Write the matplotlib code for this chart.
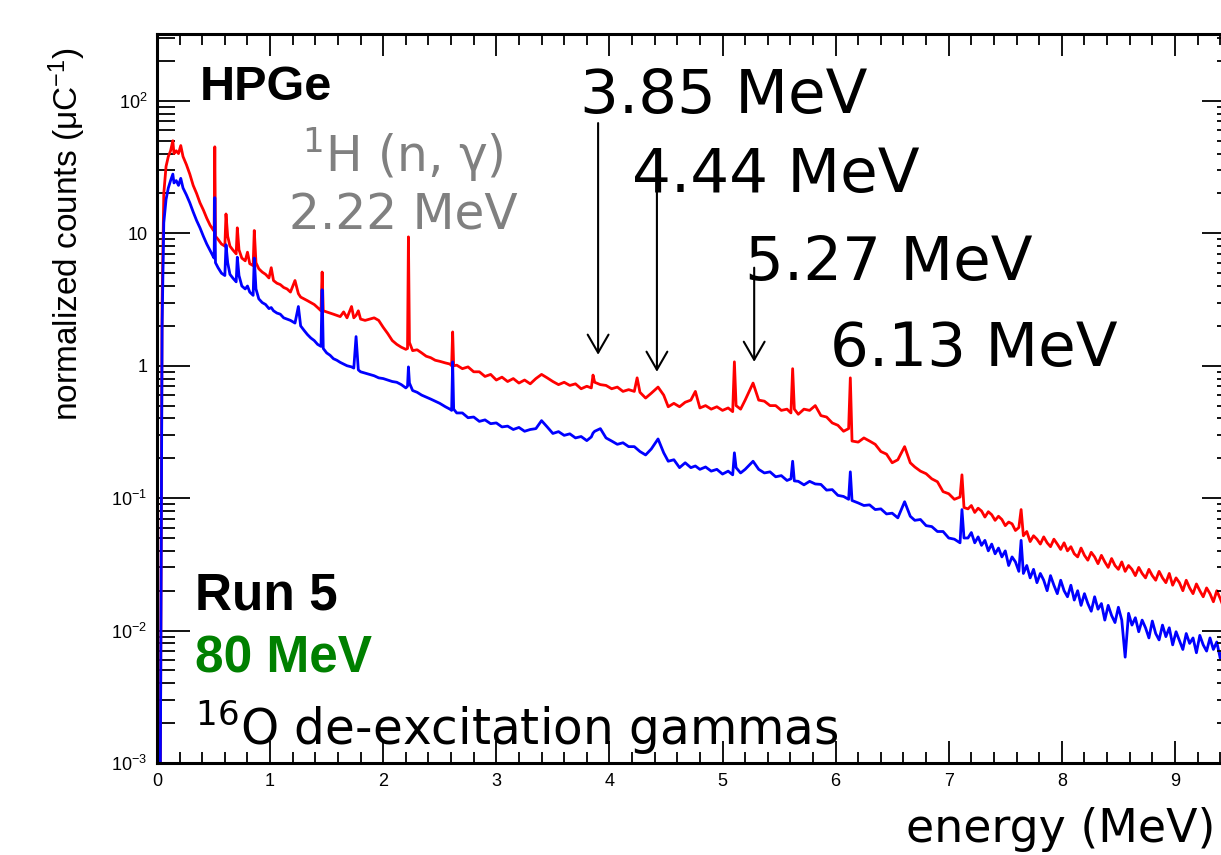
import matplotlib
matplotlib.use("Agg")
import matplotlib.pyplot as plt
from matplotlib.ticker import FixedLocator, FixedFormatter, MultipleLocator, LogLocator, NullFormatter

# HPGe spectrum, Run 5, 80 MeV
energy = [
    0.0, 0.03, 0.045, 0.06, 0.08, 0.10, 0.12, 0.14, 0.15, 0.17,
    0.19, 0.21, 0.23, 0.26, 0.29, 0.32, 0.35, 0.38, 0.41, 0.44,
    0.47, 0.50, 0.505, 0.511, 0.517, 0.54, 0.57, 0.60, 0.61, 0.625,
    0.645, 0.67, 0.70, 0.71, 0.725, 0.75, 0.78, 0.80, 0.82, 0.85,
    0.86, 0.875, 0.90, 0.93, 0.96, 0.99, 1.01, 1.03, 1.06, 1.09,
    1.12, 1.15, 1.18, 1.22, 1.25, 1.27, 1.30, 1.33, 1.36, 1.39,
    1.42, 1.45, 1.46, 1.47, 1.50, 1.53, 1.56, 1.59, 1.62, 1.65,
    1.68, 1.72, 1.74, 1.76, 1.78, 1.80, 1.84, 1.88, 1.92, 1.96,
    2.00, 2.04, 2.08, 2.12, 2.16, 2.20, 2.215, 2.223, 2.232, 2.26,
    2.30, 2.34, 2.38, 2.42, 2.46, 2.50, 2.55, 2.59, 2.605, 2.614,
    2.623, 2.65, 2.70, 2.75, 2.80, 2.85, 2.90, 2.95, 3.00, 3.05,
    3.10, 3.15, 3.20, 3.25, 3.30, 3.35, 3.40, 3.45, 3.50, 3.55,
    3.60, 3.65, 3.70, 3.75, 3.80, 3.84, 3.855, 3.87, 3.92, 3.97,
    4.02, 4.07, 4.12, 4.17, 4.22, 4.245, 4.27, 4.32, 4.37, 4.43,
    4.48, 4.52, 4.57, 4.62, 4.67, 4.72, 4.76, 4.80, 4.85, 4.90,
    4.95, 5.00, 5.05, 5.09, 5.105, 5.12, 5.16, 5.20, 5.27, 5.32,
    5.37, 5.42, 5.47, 5.52, 5.57, 5.605, 5.62, 5.635, 5.67, 5.72,
    5.77, 5.82, 5.87, 5.92, 5.97, 6.02, 6.07, 6.115, 6.13, 6.145,
    6.20, 6.25, 6.30, 6.35, 6.40, 6.45, 6.50, 6.55, 6.61, 6.66,
    6.70, 6.75, 6.80, 6.85, 6.90, 6.95, 7.00, 7.05, 7.10, 7.117,
    7.135,
    7.17, 7.20, 7.23, 7.26, 7.29, 7.32, 7.35, 7.38, 7.41, 7.44,
    7.47, 7.50, 7.53, 7.56, 7.59, 7.62, 7.64, 7.66, 7.69, 7.72,
    7.75, 7.78, 7.81, 7.84, 7.87, 7.90, 7.93, 7.96, 7.99, 8.02,
    8.05, 8.08, 8.11, 8.14, 8.17, 8.20, 8.23, 8.26, 8.29, 8.32,
    8.35, 8.38, 8.41, 8.44, 8.47, 8.50, 8.53, 8.56, 8.59, 8.62,
    8.65, 8.68, 8.71, 8.74, 8.77, 8.80, 8.83, 8.86, 8.89, 8.92,
    8.95, 8.98, 9.01, 9.04, 9.07, 9.10, 9.13, 9.16, 9.19, 9.22,
    9.25, 9.28, 9.31, 9.34, 9.37, 9.40, 9.43,
]

counts_red = [
    0.001, 0.001, 3.0, 20, 32, 38, 42, 50, 40, 42,
    40, 46, 38, 33, 28, 23, 20, 17, 15, 13,
    11.5, 10.5, 10.5, 45, 9.5, 9.0, 8.3, 8.0, 14, 9.5,
    8.0, 7.5, 7.0, 11, 7.5, 6.5, 6.2, 7.2, 5.9, 5.7,
    10.5, 6.0, 5.4, 5.1, 4.9, 4.6, 5.5, 4.4, 4.2, 4.1,
    3.9, 3.8, 3.6, 4.4, 3.5, 3.3, 3.2, 3.1, 3.0, 2.9,
    2.75, 2.6, 5.1, 2.6, 2.55, 2.5, 2.45, 2.4, 2.35, 2.55,
    2.3, 2.8, 2.3, 2.4, 2.6, 2.25, 2.2, 2.25, 2.3, 2.2,
    1.95, 1.75, 1.55, 1.45, 1.38, 1.33, 1.35, 9.4, 1.5, 1.3,
    1.32, 1.25, 1.18, 1.15, 1.1, 1.08, 1.05, 1.03, 1.0, 1.8,
    1.0, 1.01, 0.95, 0.98, 0.90, 0.90, 0.83, 0.86, 0.78, 0.82,
    0.76, 0.80, 0.74, 0.78, 0.73, 0.80, 0.86, 0.81, 0.76, 0.72,
    0.75, 0.71, 0.73, 0.67, 0.70, 0.68, 0.85, 0.75, 0.72, 0.71,
    0.67, 0.69, 0.64, 0.66, 0.64, 0.81, 0.63, 0.57, 0.62, 0.69,
    0.60, 0.49, 0.52, 0.49, 0.53, 0.55, 0.64, 0.48, 0.50, 0.47,
    0.49, 0.46, 0.48, 0.45, 1.07, 0.50, 0.47, 0.55, 0.74, 0.55,
    0.54, 0.50, 0.50, 0.46, 0.47, 0.44, 0.95, 0.47, 0.43, 0.47,
    0.46, 0.50, 0.42, 0.41, 0.37, 0.355, 0.32, 0.335, 0.81, 0.27,
    0.265, 0.285, 0.27, 0.255, 0.225, 0.215, 0.185, 0.195, 0.245, 0.185,
    0.172, 0.16, 0.153, 0.14, 0.133, 0.112, 0.108, 0.098, 0.102, 0.15,
    0.085,
    0.083, 0.088, 0.078, 0.084, 0.080, 0.072, 0.079, 0.075, 0.068, 0.073,
    0.069, 0.062, 0.066, 0.064, 0.057, 0.060, 0.082, 0.052, 0.056, 0.047,
    0.052, 0.049, 0.045, 0.051, 0.046, 0.043, 0.049, 0.045, 0.041, 0.046,
    0.040, 0.043, 0.038, 0.036, 0.042, 0.037, 0.034, 0.039, 0.036, 0.032,
    0.037, 0.033, 0.030, 0.035, 0.031, 0.029, 0.033, 0.028, 0.031, 0.029,
    0.026, 0.030, 0.027, 0.025, 0.029, 0.026, 0.024, 0.028, 0.025, 0.023,
    0.027, 0.022, 0.025, 0.023, 0.020, 0.024, 0.021, 0.019, 0.0225, 0.020,
    0.018, 0.021, 0.019, 0.0165, 0.020, 0.0175, 0.015,
]

counts_blue = [
    0.001, 0.001, 2.0, 12, 18, 22, 25, 28, 24, 25,
    23, 26, 22, 19.5, 17, 14.5, 12.5, 11, 9.5, 8.3,
    7.4, 6.6, 6.5, 18.6, 6.0, 5.5, 5.0, 4.8, 8.2, 6.0,
    4.9, 4.6, 4.3, 6.6, 4.8, 4.0, 3.8, 4.0, 3.6, 3.4,
    6.5, 3.8, 3.2, 3.0, 2.9, 2.7, 2.75, 2.6, 2.5, 2.45,
    2.3, 2.25, 2.2, 2.1, 2.8, 2.0, 1.85, 1.72, 1.62, 1.55,
    1.45, 1.40, 3.75, 1.35, 1.25, 1.2, 1.13, 1.1, 1.06, 1.03,
    1.0, 0.98, 0.96, 1.66, 0.93, 0.90, 0.88, 0.86, 0.84, 0.81,
    0.80, 0.78, 0.76, 0.75, 0.72, 0.68, 0.70, 0.98, 0.74, 0.65,
    0.63, 0.60, 0.58, 0.56, 0.54, 0.52, 0.49, 0.47, 0.46, 1.07,
    0.47, 0.44, 0.44, 0.405, 0.41, 0.38, 0.39, 0.365, 0.37, 0.345,
    0.35, 0.33, 0.342, 0.32, 0.33, 0.335, 0.385, 0.345, 0.308, 0.318,
    0.298, 0.306, 0.285, 0.292, 0.272, 0.29, 0.31, 0.32, 0.335, 0.285,
    0.27, 0.255, 0.262, 0.245, 0.245, 0.235, 0.225, 0.212, 0.235, 0.28,
    0.22, 0.19, 0.195, 0.17, 0.185, 0.17, 0.175, 0.165, 0.172, 0.16,
    0.165, 0.152, 0.16, 0.15, 0.22, 0.17, 0.155, 0.165, 0.19, 0.165,
    0.155, 0.158, 0.145, 0.148, 0.136, 0.14, 0.19, 0.135, 0.134, 0.126,
    0.134, 0.128, 0.127, 0.115, 0.116, 0.105, 0.103, 0.098, 0.158, 0.096,
    0.092, 0.088, 0.089, 0.082, 0.083, 0.076, 0.077, 0.071, 0.094, 0.073,
    0.068, 0.069, 0.062, 0.061, 0.056, 0.056, 0.05, 0.049, 0.046, 0.082,
    0.050,
    0.050, 0.055, 0.046, 0.051, 0.044, 0.048, 0.040, 0.045, 0.038, 0.042,
    0.036, 0.040, 0.031, 0.036, 0.033, 0.028, 0.048, 0.027, 0.031, 0.025,
    0.029, 0.023, 0.027, 0.024, 0.020, 0.026, 0.022, 0.019, 0.024, 0.020,
    0.018, 0.022, 0.017, 0.020, 0.0155, 0.019, 0.016, 0.014, 0.018, 0.0145,
    0.016, 0.012, 0.0155, 0.013, 0.0115, 0.015, 0.012, 0.0063, 0.0135, 0.011,
    0.0125, 0.0098, 0.012, 0.0105, 0.0088, 0.0118, 0.0095, 0.0085, 0.011, 0.009,
    0.0105, 0.0078, 0.0098, 0.0084, 0.0072, 0.0095, 0.008, 0.0088, 0.0068, 0.0092,
    0.0078, 0.0070, 0.0088, 0.0072, 0.0082, 0.0062, 0.0075,
]

# arrows pointing at the 16O lines
arrow_energy = [3.90, 4.42, 5.28]
arrow_tip = [1.21, 0.90, 1.07]
arrow_tail = [68.0, 25.4, 5.5]

line_labels = ['3.85 MeV', '4.44 MeV', '5.27 MeV', '6.13 MeV']
ytick_vals = [1e-3, 1e-2, 1e-1, 1, 10, 100]
ytick_text = ['10$^{-3}$', '10$^{-2}$', '10$^{-1}$', '1', '10', '10$^{2}$']

plt.rcParams['font.family'] = ['Liberation Sans', 'DejaVu Sans']
plt.rcParams['mathtext.fontset'] = 'custom'
plt.rcParams['mathtext.rm'] = 'DejaVu Sans'
plt.rcParams['mathtext.default'] = 'regular'

W, H = 1221, 855
fig = plt.figure(figsize=(W / 100, H / 100), dpi=100)


def fx(x):
    return x / W


def fy(y):
    return 1 - y / H


ax = fig.add_axes([fx(157), fy(763), fx(1223) - fx(157), fy(34) - fy(763)])
ax.plot(energy, counts_red, color='#ff0000', lw=2.0)
ax.plot(energy, counts_blue, color='#0000ff', lw=2.0)

ax.set_yscale('log')
ymin, ymax = 1e-3, 320
ax.set_xlim(0, 9.425)
ax.set_ylim(ymin, ymax)

ax.xaxis.set_major_locator(FixedLocator(range(10)))
ax.xaxis.set_minor_locator(MultipleLocator(0.2))
ax.yaxis.set_major_locator(FixedLocator(ytick_vals))
ax.yaxis.set_major_formatter(FixedFormatter(ytick_text))
ax.yaxis.set_minor_locator(LogLocator(base=10, subs=range(2, 10)))
ax.yaxis.set_minor_formatter(NullFormatter())

ax.tick_params(axis='x', which='major', direction='in', length=16, width=1.3,
               top=True, labelsize=13, pad=7)
ax.tick_params(axis='x', which='minor', direction='in', length=8, width=1.3, top=True)
ax.tick_params(axis='y', which='major', direction='in', length=24, width=1.3,
               right=False, labelsize=13, pad=7)
ax.tick_params(axis='y', which='minor', direction='in', length=13, width=1.3, right=False)
for s in ax.spines.values():
    s.set_linewidth(2.2)

# right-hand ticks are shorter in the original
ax2 = ax.twinx()
ax2.set_yscale('log')
ax2.set_ylim(ymin, ymax)
ax2.yaxis.set_major_locator(FixedLocator(ytick_vals))
ax2.yaxis.set_minor_locator(LogLocator(base=10, subs=range(2, 10)))
ax2.tick_params(axis='y', which='major', direction='in', length=15, width=1.3, labelright=False)
ax2.tick_params(axis='y', which='minor', direction='in', length=4.5, width=1.3, labelright=False)
for s in ax2.spines.values():
    s.set_visible(False)

for e, tip, tail in zip(arrow_energy, arrow_tip, arrow_tail):
    ax.annotate('', xy=(e, tip), xytext=(e, tail),
                arrowprops=dict(arrowstyle='->,head_length=1.3,head_width=0.75',
                                lw=1.5, color='black', shrinkA=0, shrinkB=0))

big = dict(family='DejaVu Sans', size=44, color='black', va='baseline', ha='left')
label_pos = [(580, 113), (632, 192), (745, 280), (830, 366)]
for txt, (px, py) in zip(line_labels, label_pos):
    fig.text(fx(px), fy(py), txt, **big)

fig.text(fx(200), fy(100), 'HPGe', family='Liberation Sans', weight='bold', size=35,
         va='baseline')
fig.text(fx(403), fy(172), '$^{1}$H (n, \u03b3)', family='DejaVu Sans', size=35,
         color='#808080', ha='center', va='baseline')
fig.text(fx(403), fy(229), '2.22 MeV', family='DejaVu Sans', size=35,
         color='#808080', ha='center', va='baseline')

fig.text(fx(195), fy(610), 'Run 5', family='Liberation Sans', weight='bold', size=37,
         va='baseline')
fig.text(fx(195), fy(672), '80 MeV', family='Liberation Sans', weight='bold', size=37,
         color='#008000', va='baseline')
fig.text(fx(195), fy(745), '$^{16}$O de-excitation gammas', family='DejaVu Sans',
         size=35, va='baseline')

fig.text(fx(67), fy(47), 'normalized counts (\u03bcC$^{-1}$)',
         family='Liberation Sans', size=24,
         rotation=90, ha='center', va='top')
fig.text(fx(1215), fy(842), 'energy (MeV)', family='DejaVu Sans', size=33,
         ha='right', va='baseline')

fig.savefig('out.png', dpi=100)
